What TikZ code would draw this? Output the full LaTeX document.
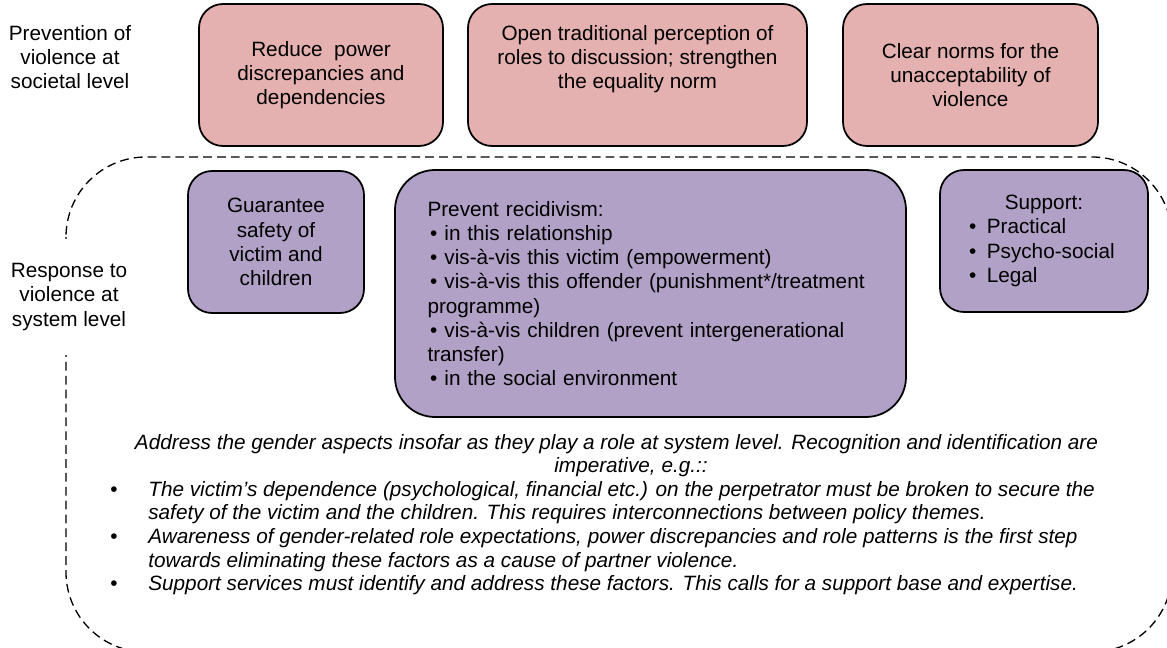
\documentclass[tikz,border=0pt]{standalone}
\usepackage{fontspec}
\setmainfont{Liberation Sans}
\newcommand\PX{0.02cm}
\newcommand\bulit{\hspace*{1.5pt}\textbullet\hspace{4pt}}
\definecolor{pinkfill}{HTML}{E4B0B0}
\definecolor{purplefill}{HTML}{B1A1C6}
\begin{document}
\begin{tikzpicture}[x=0.02cm, y=-0.02cm,
  every node/.style={font=\fontsize{11.8}{13.8}\selectfont, text=black},
  box/.style={draw=black, line width=1pt, rounded corners=0.48cm, inner sep=0pt, align=center},
  pinkbox/.style={box, fill=pinkfill, minimum height=142*\PX},
  purplebox/.style={box, fill=purplefill},
  sidelabel/.style={align=center, inner sep=0pt},
  note/.style={font=\fontsize{11.8}{13.3}\selectfont\itshape, anchor=base west, inner sep=0pt},
  bulletmark/.style={anchor=base, inner sep=0pt},
  boundary/.style={draw=black, line width=0.75pt, dash pattern=on 5pt off 2.9pt, rounded corners=1.6cm}]
\useasboundingbox (0,0) rectangle (1167,648);
\clip (0,0) rectangle (1167,648);

% dashed system-level region
\draw[boundary] (66,157) rectangle (1172,652);

% societal level boxes
\node[pinkbox, minimum width=244*\PX] (p1) at (321,75) {Reduce\ \ power\\discrepancies and\\dependencies};
\node[pinkbox, minimum width=339*\PX] (p2) at (637.5,75) {};
\node[inner sep=0pt, anchor=north, align=center] (p2t) at (637.5,25) {Open traditional perception of\\roles to discussion; strengthen\\the equality norm};
\node[pinkbox, minimum width=255*\PX] (p3) at (970.5,75) {Clear norms for the\\unacceptability of\\violence};

% system level boxes
\node[purplebox, minimum width=176*\PX, minimum height=142*\PX] (v1) at (276,242) {Guarantee\\safety of\\victim and\\children};
\node[purplebox, rounded corners=0.8cm, minimum width=511*\PX, minimum height=247*\PX, align=left, text width=446*\PX] (v2) at (650.5,293.5) {Prevent recidivism:\\
\bulit in this relationship\\
\bulit vis-à-vis this victim (empowerment)\\
\bulit vis-à-vis this offender (punishment*/treatment\\
programme)\\
\bulit vis-à-vis children (prevent intergenerational\\
transfer)\\
\bulit in the social environment};
\node[purplebox, minimum width=208*\PX, minimum height=142*\PX] (v3) at (1044,241) {Support:\\
\makebox[3cm][l]{\textbullet\hspace{6pt}Practical}\\
\makebox[3cm][l]{\textbullet\hspace{6pt}Psycho-social}\\
\makebox[3cm][l]{\textbullet\hspace{6pt}Legal}};

% side labels
\node[sidelabel] (lab1) at (70,57) {Prevention of\\violence at\\societal level};
\node[sidelabel, fill=white, inner ysep=24*\PX, inner xsep=2pt] (lab2) at (69,297) {Response to\\violence at\\system level};

% gender aspects note
\node[note, anchor=base] (n1) at (616.5,450) {Address the gender aspects insofar as they play a role at system level. Recognition and identification are};
\node[note, anchor=base] (n2) at (631,473) {imperative, e.g.::};
\node[bulletmark] (m1) at (114,497) {\textbullet};
\node[note] (n3) at (148,497) {The victim’s dependence (psychological, financial etc.) on the perpetrator must be broken to secure the};
\node[note] (n4) at (148,520) {safety of the victim and the children. This requires interconnections between policy themes.};
\node[bulletmark] (m2) at (114,543) {\textbullet};
\node[note] (n5) at (148,543) {Awareness of gender-related role expectations, power discrepancies and role patterns is the first step};
\node[note] (n6) at (148,567) {towards eliminating these factors as a cause of partner violence.};
\node[bulletmark] (m3) at (114,590) {\textbullet};
\node[note] (n7) at (148,590) {Support services must identify and address these factors. This calls for a support base and expertise.};
\end{tikzpicture}
\end{document}
